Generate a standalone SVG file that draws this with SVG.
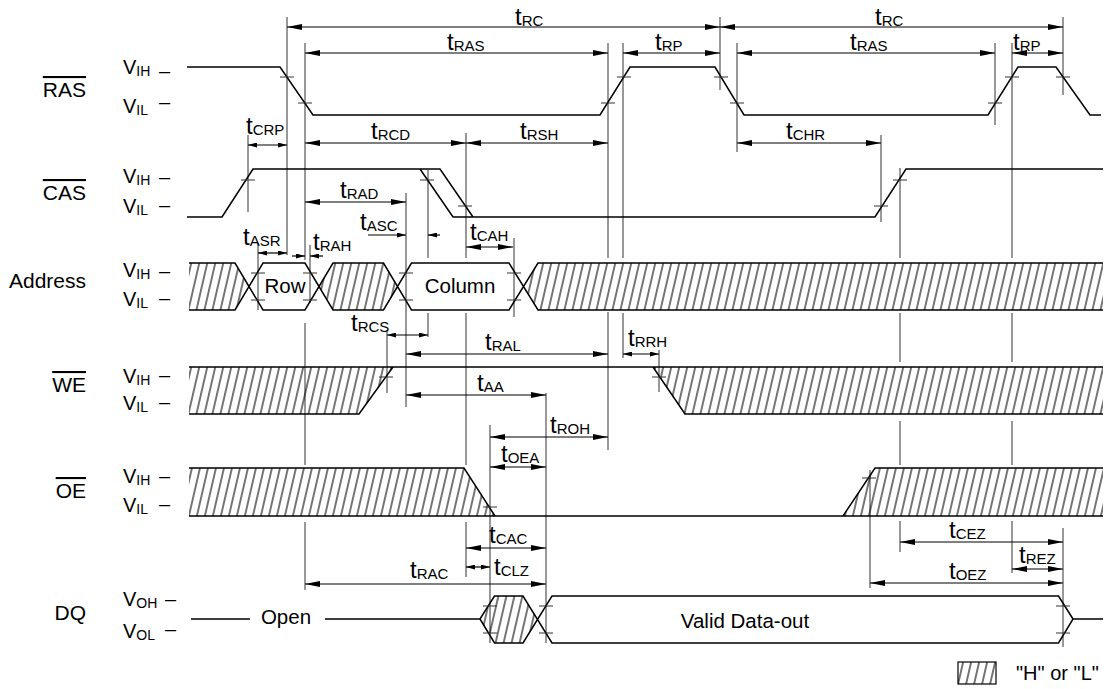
<svg xmlns="http://www.w3.org/2000/svg" width="1110" height="689" viewBox="0 0 1110 689">
<defs>
<style>
text{font-family:"Liberation Sans",Arial,sans-serif;fill:#000}
.sig{font-size:21px;text-anchor:end}
.ov{text-decoration:overline}
.v{font-size:20px}
.vs{font-size:14px}
.t{font-size:24px}
.ts{font-size:15px}
.lbl{font-size:20.5px;text-anchor:middle}
.w{fill:none;stroke:#000;stroke-width:1.5;stroke-linejoin:miter}
.g{fill:none;stroke:#333;stroke-width:1}
.k{fill:none;stroke:#333;stroke-width:1}
.a{stroke:#000;stroke-width:1.2}
.h{fill:url(#hatch);stroke:none}
</style>
<pattern id="hatch" patternUnits="userSpaceOnUse" width="8" height="8" patternTransform="skewX(-13)">
<line x1="4" y1="-1" x2="4" y2="9" stroke="#000" stroke-width="1.1"/>
</pattern>
<marker id="ar" markerUnits="userSpaceOnUse" markerWidth="15" markerHeight="6" refX="15" refY="3" orient="auto-start-reverse"><path d="M0,0 L15,3 L0,6 z" fill="#000"/></marker>
<marker id="as" markerUnits="userSpaceOnUse" markerWidth="9" markerHeight="5" refX="9" refY="2.5" orient="auto-start-reverse"><path d="M0,0 L9,2.5 L0,5 z" fill="#000"/></marker>
</defs>

<g id="signal-labels">
<text class="sig ov" x="86" y="97">RAS</text>
<text class="sig ov" x="86" y="200">CAS</text>
<text class="sig" x="86" y="288">Address</text>
<text class="sig ov" x="86" y="392">WE</text>
<text class="sig ov" x="86" y="498">OE</text>
<text class="sig" x="86" y="620">DQ</text>
</g>

<g id="level-labels">
<text class="v" x="123" y="74">V<tspan class="vs" dy="2">IH</tspan></text><text class="v" x="159" y="78">–</text>
<text class="v" x="123" y="113">V<tspan class="vs" dy="2">IL</tspan></text><text class="v" x="159" y="109">–</text>
<text class="v" x="123" y="183">V<tspan class="vs" dy="2">IH</tspan></text><text class="v" x="159" y="184">–</text>
<text class="v" x="123" y="213">V<tspan class="vs" dy="2">IL</tspan></text><text class="v" x="159" y="212">–</text>
<text class="v" x="123" y="277">V<tspan class="vs" dy="2">IH</tspan></text><text class="v" x="159" y="278">–</text>
<text class="v" x="123" y="306">V<tspan class="vs" dy="2">IL</tspan></text><text class="v" x="159" y="305">–</text>
<text class="v" x="123" y="383">V<tspan class="vs" dy="2">IH</tspan></text><text class="v" x="159" y="382">–</text>
<text class="v" x="123" y="410">V<tspan class="vs" dy="2">IL</tspan></text><text class="v" x="159" y="409">–</text>
<text class="v" x="123" y="483">V<tspan class="vs" dy="2">IH</tspan></text><text class="v" x="159" y="483">–</text>
<text class="v" x="123" y="512">V<tspan class="vs" dy="2">IL</tspan></text><text class="v" x="159" y="511">–</text>
<text class="v" x="123" y="606">V<tspan class="vs" dy="2">OH</tspan></text><text class="v" x="165" y="606">–</text>
<text class="v" x="123" y="638">V<tspan class="vs" dy="2">OL</tspan></text><text class="v" x="165" y="636">–</text>
</g>

<g id="guides">
<path class="g" d="M287,17 V255 M305,43 V260 M305,323 V465 M305,522 V590 M310,245 V303 M258,243 V310 M248,135 V212 M387,330 V393 M406,193 V407 M428,170 V258 M428,313 V337 M466,133 V258 M466,313 V465 M466,522 V577 M490,425 V643 M514,238 V317 M546,393 V643 M608,43 V258 M608,312 V450 M623,43 V258 M623,313 V358 M659,350 V392 M720,17 V90 M737,43 V152 M881,135 V222 M900,168 V258 M900,313 V362 M900,421 V465 M900,521 V552 M870,470 V588 M995,43 V125 M1012,43 V258 M1012,313 V362 M1012,421 V465 M1012,521 V573 M1063,17 V95 M1063,528 V647"/>
</g>

<g id="sig-RAS">
<path class="w" d="M187,67 H280 L313,115 H600 L630,67 H715 L744,115 H988 L1018,67 H1056 L1090,115 H1101"/>
<path class="k" d="M280,77 h14 M298,103 h14 M601,103 h14 M617,77 h14 M714,77 h14 M730,103 h14 M988,103 h14 M1005,77 h14 M1056,77 h14"/>
</g>

<g id="sig-CAS">
<path class="w" d="M187,217 H222 L253,169 H440 L473,217 M420,169 L453,217 H875 L906,169 H1103"/>
<path class="k" d="M241,180 h14 M420,180 h14 M458,206 h14 M874,206 h14 M893,180 h14"/>
</g>

<g id="sig-Address">
<polygon class="h" points="189,263 235,263 249,286.5 235,310 189,310"/>
<polygon class="h" points="319,286.5 333,263 383.5,263 397.5,286.5 383.5,310 333,310"/>
<polygon class="h" points="523.5,286.5 538,263 1103,263 1103,310 538,310"/>
<path class="w" d="M189,263 H235 L263,310 H305 L333,263 H383.5 L411.5,310 H509 L538,263 H1103 M189,310 H235 L263,263 H305 L333,310 H383.5 L411.5,263 H509 L538,310 H1103"/>
<path class="k" d="M251,273 h14 M251,300 h14 M303,273 h14 M303,300 h14 M399,273 h14 M399,300 h14 M507,273 h14 M507,300 h14"/>
<text class="lbl" x="285" y="293">Row</text>
<text class="lbl" x="460" y="293">Column</text>
</g>

<g id="sig-WE">
<polygon class="h" points="189,367 393,367 359,414 189,414"/>
<polygon class="h" points="653,367 1103,367 1103,414 685,414"/>
<path class="w" d="M189,367 H1103 M189,414 H359 L393,367 M653,367 L685,414 H1103"/>
<path class="k" d="M379,377 h14 M652,377 h14"/>
</g>

<g id="sig-OE">
<polygon class="h" points="189,468 464,468 495,516 189,516"/>
<polygon class="h" points="843,516 875,468 1103,468 1103,516"/>
<path class="w" d="M189,468 H464 L495,516 M189,516 H1103 M843,516 L875,468 H1103"/>
<path class="k" d="M483,507 h14 M862,478 h14"/>
</g>

<g id="sig-DQ">
<polygon class="h" points="480,619 494.5,596 523,596 537.5,619 523,643 494.5,643"/>
<path class="w" d="M191,619 H250 M325,619 H480 L494.5,596 H523 L552,643 H1058.5 L1073,619 H1103 M480,619 L494.5,643 H523 L552,596 H1058.5 L1073,619"/>
<path class="k" d="M483,606 h14 M483,633 h14 M539,606 h14 M539,633 h14 M1056,606 h14 M1056,633 h14"/>
<text class="lbl" x="286" y="624">Open</text>
<text class="lbl" x="745" y="628">Valid Data-out</text>
</g>

<g id="timing-arrows">
<line class="a" x1="287" y1="27" x2="720" y2="27" marker-start="url(#ar)" marker-end="url(#ar)"/>
<line class="a" x1="720" y1="27" x2="1063" y2="27" marker-start="url(#ar)" marker-end="url(#ar)"/>
<line class="a" x1="305" y1="53" x2="608" y2="53" marker-start="url(#ar)" marker-end="url(#ar)"/>
<line class="a" x1="623" y1="53" x2="720" y2="53" marker-start="url(#ar)" marker-end="url(#ar)"/>
<line class="a" x1="737" y1="53" x2="995" y2="53" marker-start="url(#ar)" marker-end="url(#ar)"/>
<line class="a" x1="1012" y1="53" x2="1063" y2="53" marker-start="url(#ar)" marker-end="url(#ar)"/>
<line class="a" x1="248" y1="145" x2="287" y2="145" marker-start="url(#as)" marker-end="url(#as)"/>
<line class="a" x1="305" y1="143" x2="466" y2="143" marker-start="url(#ar)" marker-end="url(#ar)"/>
<line class="a" x1="466" y1="143" x2="608" y2="143" marker-start="url(#ar)" marker-end="url(#ar)"/>
<line class="a" x1="737" y1="143" x2="881" y2="143" marker-start="url(#ar)" marker-end="url(#ar)"/>
<line class="a" x1="305" y1="202" x2="406" y2="202" marker-start="url(#ar)" marker-end="url(#ar)"/>
<line class="a" x1="368" y1="235" x2="406" y2="235" marker-end="url(#as)"/>
<line class="a" x1="440" y1="235" x2="428" y2="235" marker-end="url(#as)"/>
<line class="a" x1="258" y1="253" x2="287" y2="253" marker-start="url(#as)" marker-end="url(#as)"/>
<line class="a" x1="292" y1="256" x2="305" y2="256" marker-end="url(#as)"/>
<line class="a" x1="323" y1="256" x2="310" y2="256" marker-end="url(#as)"/>
<line class="a" x1="466" y1="247" x2="513" y2="247" marker-start="url(#ar)" marker-end="url(#ar)"/>
<line class="a" x1="387" y1="335" x2="428" y2="335" marker-start="url(#as)" marker-end="url(#as)"/>
<line class="a" x1="406" y1="354" x2="608" y2="354" marker-start="url(#ar)" marker-end="url(#ar)"/>
<line class="a" x1="623" y1="354" x2="659" y2="354" marker-start="url(#as)" marker-end="url(#as)"/>
<line class="a" x1="406" y1="395" x2="546" y2="395" marker-start="url(#ar)" marker-end="url(#ar)"/>
<line class="a" x1="490" y1="437" x2="608" y2="437" marker-start="url(#ar)" marker-end="url(#ar)"/>
<line class="a" x1="490" y1="467" x2="546" y2="467" marker-start="url(#ar)" marker-end="url(#ar)"/>
<line class="a" x1="466" y1="548" x2="546" y2="548" marker-start="url(#ar)" marker-end="url(#ar)"/>
<line class="a" x1="466" y1="567" x2="490" y2="567" marker-start="url(#as)" marker-end="url(#as)"/>
<line class="a" x1="305" y1="584" x2="546" y2="584" marker-start="url(#ar)" marker-end="url(#ar)"/>
<line class="a" x1="900" y1="542" x2="1063" y2="542" marker-start="url(#ar)" marker-end="url(#ar)"/>
<line class="a" x1="1012" y1="569" x2="1063" y2="569" marker-start="url(#ar)" marker-end="url(#ar)"/>
<line class="a" x1="870" y1="583" x2="1063" y2="583" marker-start="url(#ar)" marker-end="url(#ar)"/>
</g>

<g id="timing-labels">
<text class="t" x="515" y="25">t<tspan class="ts" dy="1">RC</tspan></text>
<text class="t" x="875" y="25">t<tspan class="ts" dy="1">RC</tspan></text>
<text class="t" x="447" y="50">t<tspan class="ts" dy="1">RAS</tspan></text>
<text class="t" x="655" y="50">t<tspan class="ts" dy="1">RP</tspan></text>
<text class="t" x="850" y="50">t<tspan class="ts" dy="1">RAS</tspan></text>
<text class="t" x="1013" y="50">t<tspan class="ts" dy="1">RP</tspan></text>
<text class="t" x="246" y="134">t<tspan class="ts" dy="1">CRP</tspan></text>
<text class="t" x="371" y="139">t<tspan class="ts" dy="1">RCD</tspan></text>
<text class="t" x="520" y="139">t<tspan class="ts" dy="1">RSH</tspan></text>
<text class="t" x="786" y="139">t<tspan class="ts" dy="1">CHR</tspan></text>
<text class="t" x="340" y="198">t<tspan class="ts" dy="1">RAD</tspan></text>
<text class="t" x="360" y="230">t<tspan class="ts" dy="1">ASC</tspan></text>
<text class="t" x="243" y="245">t<tspan class="ts" dy="1">ASR</tspan></text>
<text class="t" x="313" y="250">t<tspan class="ts" dy="1">RAH</tspan></text>
<text class="t" x="470" y="240">t<tspan class="ts" dy="1">CAH</tspan></text>
<text class="t" x="351" y="331">t<tspan class="ts" dy="1">RCS</tspan></text>
<text class="t" x="485" y="350">t<tspan class="ts" dy="1">RAL</tspan></text>
<text class="t" x="628" y="346">t<tspan class="ts" dy="1">RRH</tspan></text>
<text class="t" x="477" y="391">t<tspan class="ts" dy="1">AA</tspan></text>
<text class="t" x="550" y="433">t<tspan class="ts" dy="1">ROH</tspan></text>
<text class="t" x="501" y="462">t<tspan class="ts" dy="1">OEA</tspan></text>
<text class="t" x="489" y="543">t<tspan class="ts" dy="1">CAC</tspan></text>
<text class="t" x="494" y="575">t<tspan class="ts" dy="1">CLZ</tspan></text>
<text class="t" x="410" y="578">t<tspan class="ts" dy="1">RAC</tspan></text>
<text class="t" x="949" y="538">t<tspan class="ts" dy="1">CEZ</tspan></text>
<text class="t" x="1019" y="563">t<tspan class="ts" dy="1">REZ</tspan></text>
<text class="t" x="949" y="579">t<tspan class="ts" dy="1">OEZ</tspan></text>
</g>

<g id="legend">
<rect x="958" y="662" width="38" height="22" fill="url(#hatch)" stroke="#000" stroke-width="1.2"/>
<text x="1016" y="680" style="font-size:20px">"H" or "L"</text>
</g>
</svg>
